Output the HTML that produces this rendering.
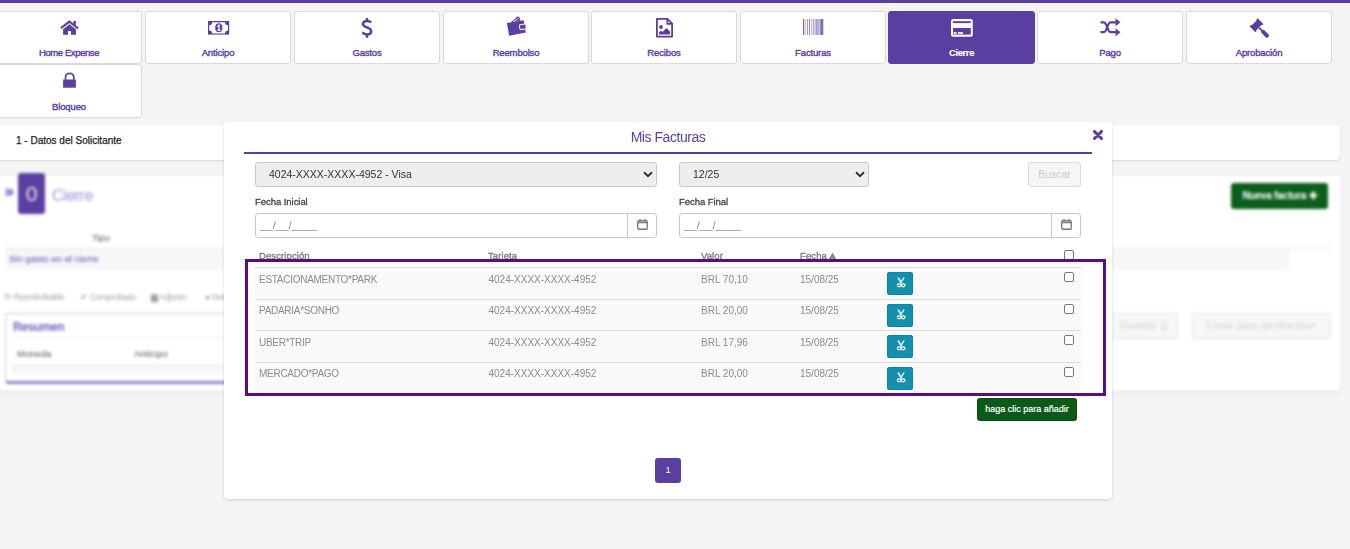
<!DOCTYPE html>
<html><head><meta charset="utf-8">
<style>
*{box-sizing:border-box;margin:0;padding:0}
html,body{width:1350px;height:549px;overflow:hidden}
body{background:#f4f4f4;font-family:"Liberation Sans",sans-serif;position:relative}
.topbar{position:absolute;left:0;top:0;width:1350px;height:3px;background:#5b3fa0}
.card{position:absolute;width:146px;height:53px;background:#fff;border:1px solid #d9d9d9;border-radius:3px;color:#5b3fa0;text-align:center}
.card.active{background:#5b3fa0;border-color:#5b3fa0;color:#fff}
.card .ic{position:absolute;left:0;right:0;top:9px;height:15px;display:flex;justify-content:center}
.card .lb{position:absolute;left:0;right:0;top:35px;font-size:9.5px;font-weight:normal;line-height:12px;letter-spacing:-0.15px;-webkit-text-stroke:0.4px currentColor}
.panel1{position:absolute;left:-5px;top:125px;width:1345px;height:35px;background:#fff;box-shadow:0 1px 2px rgba(0,0,0,.12);border-radius:4px}
.panel1 .t{position:absolute;left:21px;top:10px;font-size:10px;color:#222;font-weight:normal;-webkit-text-stroke:0.25px #222;letter-spacing:0px}
.panel2{position:absolute;left:-5px;top:175px;width:1345px;height:215px;background:#fff;box-shadow:0 1px 2px rgba(0,0,0,.12);filter:blur(1px)}
.blurwrap{position:absolute;left:0;top:0;width:1350px;height:549px;filter:blur(1.6px)}
.p2bg{position:absolute;left:-5px;top:175.5px;width:1344.5px;height:215px;background:#fff;box-shadow:0 1px 2px rgba(0,0,0,.15)}
.modal{position:absolute;left:224px;top:122px;width:888px;height:377px;background:#fff;border-radius:4px;box-shadow:0 1px 3px rgba(0,0,0,.16)}

.abs{position:absolute}
.mtitle{position:absolute;left:224px;width:888px;text-align:center;top:128px;font-size:14px;letter-spacing:-0.45px;color:#5b3fa0;line-height:18px}
.mclose{position:absolute;left:1093px;top:130px;width:10px;height:10px}
.mline{position:absolute;left:244px;top:152px;width:848px;height:2px;background:#5b3fa0}
.sel{position:absolute;height:25px;background:#eee;border:1px solid #c8c8c8;border-radius:3px;font-size:10.5px;color:#333;line-height:23px}
.sel .v{position:absolute;left:13px;top:0}
.sel svg{position:absolute;top:8px}
.btn-bus{position:absolute;left:1028px;top:162px;width:53px;height:25px;background:#f6f6f6;border:1px solid #dcdcdc;border-radius:3px;color:#c9c9c9;font-size:10.5px;text-align:center;line-height:23px}
.lbl{position:absolute;top:195px;font-size:9.5px;font-weight:normal;color:#3d4451;letter-spacing:-0.05px;line-height:13px;-webkit-text-stroke:0.3px #3d4451}
.dinp{position:absolute;top:213px;height:25px;background:#fff;border:1px solid #c8c8c8;border-radius:3px}
.dinp .ph{position:absolute;left:4px;top:4px;font-size:11.4px;color:#8a8a8a;line-height:14px;letter-spacing:0px}
.dinp .add{position:absolute;right:0;top:-1px;width:29px;height:25px;border-left:1px solid #c8c8c8}
.dinp .add svg{position:absolute;left:9px;top:6px}
.th{position:absolute;top:249px;font-size:9.5px;font-weight:normal;color:#7d7d7d;line-height:13px;letter-spacing:0.1px;-webkit-text-stroke:0.35px #7d7d7d}
.tbl{position:absolute;left:255px;top:267px;width:826px;height:126px;background:#f9f9f9}
.rl{position:absolute;left:255px;width:826px;height:1px;background:#dcdcdc}
.td{position:absolute;font-size:10px;color:#8c8c8c;line-height:13px}
.tb{position:absolute;left:887px;width:26px;height:23px;background:#1390ad;border-radius:3px;box-shadow:inset 0 0 0 1px #0f84a0}
.tb svg{position:absolute;left:0;top:0}
.cb{position:absolute;left:1064px;width:10px;height:10px;border:1px solid #767676;border-radius:2px;background:#fff}
.pbox{position:absolute;left:245px;top:259px;width:861px;height:137px;border:3px solid #5f0a85}
.gbtn{position:absolute;left:977px;top:398px;width:100px;height:23px;background:#0b5a1a;border:1px solid #094c15;border-radius:2.5px;color:#fff;font-size:9px;text-align:center;line-height:21px;-webkit-text-stroke:0.2px #fff}
.pg{position:absolute;left:655px;top:458px;width:26px;height:25px;background:#5b3fa0;border-radius:3px;color:#fff;font-size:9px;text-align:center;line-height:25px}
</style></head><body>
<div class="topbar"></div>

<div class="card" style="left:-4px;top:11px"><div class="ic"></div><div class="lb" style="letter-spacing:-0.4px">Home Expense</div></div>
<div class="card" style="left:145px;top:11px"><div class="ic"></div><div class="lb">Anticipo</div></div>
<div class="card" style="left:294px;top:11px"><div class="ic"></div><div class="lb">Gastos</div></div>
<div class="card" style="left:443px;top:11px"><div class="ic"></div><div class="lb">Reembolso</div></div>
<div class="card" style="left:591px;top:11px"><div class="ic"></div><div class="lb">Recibos</div></div>
<div class="card" style="left:740px;top:11px"><div class="ic"></div><div class="lb">Facturas</div></div>
<div class="card active" style="left:888px;top:11px;width:147px"><div class="ic"></div><div class="lb" style="font-weight:bold;letter-spacing:-0.4px;-webkit-text-stroke:0.1px #fff">Cierre</div></div>
<div class="card" style="left:1037px;top:11px"><div class="ic"></div><div class="lb">Pago</div></div>
<div class="card" style="left:1186px;top:11px"><div class="ic"></div><div class="lb">Aprobación</div></div>
<div class="card" style="left:-4px;top:64px;height:54px"><div class="ic"></div><div class="lb" style="top:35.5px">Bloqueo</div></div>

<svg class="abs" style="left:60px;top:20px" width="20" height="16" viewBox="0 0 20 16"><path d="M0.9 8.2 L9.4 1.6 L18.1 8.5" fill="none" stroke="#5b3fa0" stroke-width="2.1"/><rect x="13.4" y="1" width="2.5" height="4.5" fill="#5b3fa0"/><path d="M3.1 9.2 L9.4 4.3 L15.9 9.2 V14.8 H11 V11.1 H8 V14.8 H3.1 Z" fill="#5b3fa0"/></svg>
<svg class="abs" style="left:207.8px;top:21px" width="22" height="14" viewBox="0 0 22 14"><rect x="0" y="0" width="21.2" height="13.6" fill="#5b3fa0"/><path d="M4.2 1.2 H17 A3 3 0 0 0 20 4.2 V9.4 A3 3 0 0 0 17 12.4 H4.2 A3 3 0 0 0 1.2 9.4 V4.2 A3 3 0 0 0 4.2 1.2 Z" fill="#fff"/><ellipse cx="10.8" cy="6.8" rx="3.6" ry="4.5" fill="#5b3fa0"/><path d="M9.5 5.5 L11 4.3 V9.2 M9.4 9.3 H12.5" fill="none" stroke="#fff" stroke-width="1.3"/></svg>
<svg class="abs" style="left:361px;top:17px" width="12" height="22" viewBox="0 0 12 22"><path d="M10.1 5.6 C9.4 4.5 8.2 3.9 6 3.9 C3.5 3.9 1.9 5.1 1.9 6.9 C1.9 8.8 3.8 9.6 6 10.4 C8.5 11.3 10.2 12.1 10.2 14.2 C10.2 16.2 8.4 17.4 6 17.4 C3.8 17.4 2.3 16.6 1.5 15.4" fill="none" stroke="#5b3fa0" stroke-width="2.5"/><path d="M6 1 V4 M6 17.3 V20.7" stroke="#5b3fa0" stroke-width="2.4"/></svg>
<svg class="abs" style="left:506px;top:15px" width="21" height="22" viewBox="0 0 21 22"><path d="M4.6 7.4 L11.8 1.2 L13.4 2.2 L14.6 5.6 Z" fill="#5b3fa0"/><path d="M7 6.4 L12.6 3.6" stroke="#fff" stroke-width="0.8"/><path d="M0.9 8 L17.7 5.2 L19.8 17.4 L3.2 20.7 Z" fill="#5b3fa0"/><rect x="13.6" y="9.3" width="6.4" height="5" rx="1" transform="rotate(-9 16.8 11.8)" fill="#5b3fa0" stroke="#fff" stroke-width="1"/></svg>
<svg class="abs" style="left:655px;top:17px" width="19" height="21" viewBox="0 0 19 21"><path d="M1.9 1.9 H12.4 L17.1 6.6 V19.6 H1.9 Z" fill="none" stroke="#5b3fa0" stroke-width="1.8" stroke-linejoin="round"/><path d="M12.3 1.5 V6.9 H17.5" fill="none" stroke="#5b3fa0" stroke-width="1.6"/><circle cx="6" cy="10" r="1.9" fill="#5b3fa0"/><path d="M4 17.6 V15.4 L5.8 13.6 L7.3 15 L11.5 11 L15 14.4 V17.6 Z" fill="#5b3fa0"/></svg>
<svg class="abs" style="left:802px;top:18px" width="22" height="18" viewBox="0 0 22 18"><rect x="1" y="1" width="1" height="16" fill="#5b3fa0" fill-opacity="0.8"/><rect x="2.4" y="1" width="1.6" height="16" fill="#5b3fa0" fill-opacity="0.3"/><rect x="5" y="1" width="0.9" height="16" fill="#5b3fa0" fill-opacity="0.6"/><rect x="7" y="1" width="1" height="16" fill="#5b3fa0" fill-opacity="0.65"/><rect x="9.4" y="1" width="0.8" height="16" fill="#5b3fa0" fill-opacity="0.55"/><rect x="11.2" y="1" width="0.8" height="16" fill="#5b3fa0" fill-opacity="0.55"/><rect x="12.6" y="1" width="0.9" height="16" fill="#5b3fa0" fill-opacity="0.6"/><rect x="14.1" y="1" width="0.9" height="16" fill="#5b3fa0" fill-opacity="0.6"/><rect x="15.4" y="1" width="1.3" height="16" fill="#5b3fa0" fill-opacity="0.65"/><rect x="17.3" y="1" width="0.7" height="16" fill="#5b3fa0" fill-opacity="0.45"/><rect x="18.3" y="1" width="1.7" height="16" fill="#5b3fa0" fill-opacity="0.8"/><rect x="20" y="1" width="1.3" height="16" fill="#5b3fa0" fill-opacity="0.75"/></svg>
<svg class="abs" style="left:950px;top:18px" width="24" height="20" viewBox="0 0 24 20"><rect x="1" y="0.9" width="21.8" height="17.8" rx="2" fill="#fff"/><rect x="3" y="3.2" width="17.8" height="1.9" fill="#5b3fa0"/><rect x="3" y="10" width="17.8" height="6.6" fill="#5b3fa0"/><rect x="3.6" y="14.2" width="3" height="1.7" fill="#fff"/><rect x="8" y="14.2" width="5" height="1.7" fill="#fff"/></svg>
<svg class="abs" style="left:1099px;top:17px" width="23" height="20" viewBox="0 0 23 20"><path d="M1.5 5.3 H4.8 C8.2 5.3 8.2 15.2 11.6 15.2 H17.2" fill="none" stroke="#5b3fa0" stroke-width="2.3"/><path d="M1.5 15.2 H4.8 C8.2 15.2 8.2 5.3 11.6 5.3 H17.2" fill="none" stroke="#5b3fa0" stroke-width="2.3"/><path d="M16.6 1.2 L21.5 5.2 L16.6 9.2 Z M16.6 11.2 L21.5 15.2 L16.6 19.2 Z" fill="#5b3fa0"/></svg>
<svg class="abs" style="left:1248px;top:17px" width="22" height="22" viewBox="0 0 22 22"><g transform="translate(8.5 8.2) rotate(-45)"><path d="M-5.7 -4.1 H-4.3 Q-3.5 -3.2 -2.7 -3.3 H2.7 Q3.5 -3.2 4.3 -4.1 H5.7 V4.1 H4.3 Q3.5 3.2 2.7 3.3 H-2.7 Q-3.5 3.2 -4.3 4.1 H-5.7 Z" fill="#5b3fa0"/><rect x="-0.9" y="3.5" width="1.8" height="5" fill="#5b3fa0"/><rect x="-2" y="7.6" width="4" height="9" rx="1.6" fill="#5b3fa0"/></g></svg>
<svg class="abs" style="left:62px;top:71px" width="15" height="18" viewBox="0 0 15 18"><path d="M3.55 8.8 V6.35 A4.1 4.1 0 0 1 11.75 6.35 V8.8" fill="none" stroke="#5b3fa0" stroke-width="1.75"/><rect x="1.1" y="8.5" width="12.8" height="8.2" fill="#5b3fa0"/></svg>
<div class="panel1"><div class="t">1 - Datos del Solicitante</div></div>
<div class="blurwrap">
<div class="p2bg"></div>
<svg class="abs" style="left:5px;top:188px" width="9" height="9" viewBox="0 0 9 9"><path d="M0.8 0.8 L3.8 4.2 L0.8 7.6 M4.6 0.8 L7.6 4.2 L4.6 7.6" fill="none" stroke="#6f5cc0" stroke-width="2"/></svg>
<div class="abs" style="left:18px;top:173px;width:27px;height:41px;background:#5b3fa0;border-radius:3px;color:#e4ddf4;font-size:21px;text-align:center;line-height:41px">0</div>
<div class="abs" style="left:52px;top:186.5px;font-size:16px;color:#ae9fe0;letter-spacing:-0.45px;line-height:18px;-webkit-text-stroke:0.15px #ae9fe0">Cierre</div>
<div class="abs" style="left:92px;top:231.5px;font-size:9.5px;color:#555;line-height:12px">Tipo</div>
<div class="abs" style="left:5px;top:247.5px;width:1326px;height:1px;background:#e6e6e6"></div>
<div class="abs" style="left:5px;top:248.5px;width:1284px;height:21.5px;background:#f7f7f7"></div>
<div class="abs" style="left:9px;top:253px;font-size:9.5px;color:#7f6fcc;line-height:12px;-webkit-text-stroke:0.2px #7f6fcc">Sin gasto en el cierre</div>
<div class="abs" style="left:4px;top:292px;font-size:8.5px;color:#a2a2a2;line-height:11px;white-space:nowrap;letter-spacing:-0.3px">⟳ Reembolsable</div>
<div class="abs" style="left:80px;top:292px;font-size:8.5px;color:#a2a2a2;line-height:11px;white-space:nowrap;letter-spacing:-0.3px">✔ Comprobado</div>
<div class="abs" style="left:151px;top:292px;font-size:8.5px;color:#a2a2a2;line-height:11px;white-space:nowrap;letter-spacing:-0.3px">▆ Adjunto</div>
<div class="abs" style="left:205px;top:292px;font-size:8.5px;color:#a2a2a2;line-height:11px;white-space:nowrap;letter-spacing:-0.3px">● Detalle</div>
<div class="abs" style="left:5px;top:312.5px;width:400px;height:71px;border:1.5px solid #cdc2ee;border-bottom:3px solid #9282cc;border-radius:4px"></div>
<div class="abs" style="left:13px;top:320px;font-size:12px;font-weight:bold;color:#7560c4;line-height:14px;letter-spacing:-0.4px">Resumen</div>
<div class="abs" style="left:12px;top:338px;width:390px;height:1px;background:#eeeeee"></div>
<div class="abs" style="left:17px;top:348px;font-size:9.5px;color:#555;line-height:12px">Moneda</div>
<div class="abs" style="left:134px;top:348px;font-size:9.5px;color:#555;line-height:12px">Anticipo</div>
<div class="abs" style="left:12px;top:364px;width:390px;height:10px;background:#f6f6f6;border-top:1px solid #eee"></div>
<div class="abs" style="left:1231px;top:183px;width:97px;height:25.5px;background:#0c5e1c;border-radius:3px;color:#fff;font-size:10px;font-weight:bold;text-align:center;line-height:25px;letter-spacing:-0.2px">Nueva factura ✚</div>
<div class="abs" style="left:1100px;top:313px;width:78px;height:26px;background:#f7f7f7;border:1px solid #e6e6e6;border-radius:3px;color:#d6d6d6;font-size:10px;text-align:right;padding-right:8px;line-height:24px">Guardar 🖫</div>
<div class="abs" style="left:1192px;top:313px;width:139px;height:26px;background:#f7f7f7;border:1px solid #e6e6e6;border-radius:3px;color:#d6d6d6;font-size:10px;text-align:center;line-height:24px">Enviar para aprobación✐</div>
</div>

<div class="modal"></div>
<div class="mtitle">Mis Facturas</div>
<svg class="mclose" viewBox="0 0 10 10"><path d="M1.5 1.5 L8.5 8.5 M8.5 1.5 L1.5 8.5" stroke="#5b3fa0" stroke-width="3.1" stroke-linecap="round"/></svg>
<div class="mline"></div>
<div class="sel" style="left:255px;top:162px;width:402px"><span class="v">4024-XXXX-XXXX-4952 - Visa</span><svg width="10" height="7" viewBox="0 0 10 7" style="left:387px"><path d="M1 1.2 L5 5.2 L9 1.2" fill="none" stroke="#333" stroke-width="2"/></svg></div>
<div class="sel" style="left:679px;top:162px;width:190px"><span class="v">12/25</span><svg width="10" height="7" viewBox="0 0 10 7" style="left:175px"><path d="M1 1.2 L5 5.2 L9 1.2" fill="none" stroke="#333" stroke-width="2"/></svg></div>
<div class="btn-bus">Buscar</div>
<div class="lbl" style="left:255px">Fecha Inicial</div>
<div class="lbl" style="left:679px">Fecha Final</div>
<div class="dinp" style="left:255px;width:402px"><span class="ph">__/__/____</span><div class="add"><svg width="11" height="11" viewBox="0 0 11 11"><rect x="0.75" y="1.75" width="9.5" height="8.5" rx="1" fill="none" stroke="#777" stroke-width="1.3"/><line x1="0.75" y1="3.6" x2="10.25" y2="3.6" stroke="#777" stroke-width="1.3"/><line x1="3" y1="0" x2="3" y2="2.5" stroke="#777" stroke-width="1.3"/><line x1="8" y1="0" x2="8" y2="2.5" stroke="#777" stroke-width="1.3"/></svg></div></div>
<div class="dinp" style="left:679px;width:402px"><span class="ph">__/__/____</span><div class="add"><svg width="11" height="11" viewBox="0 0 11 11"><rect x="0.75" y="1.75" width="9.5" height="8.5" rx="1" fill="none" stroke="#777" stroke-width="1.3"/><line x1="0.75" y1="3.6" x2="10.25" y2="3.6" stroke="#777" stroke-width="1.3"/><line x1="3" y1="0" x2="3" y2="2.5" stroke="#777" stroke-width="1.3"/><line x1="8" y1="0" x2="8" y2="2.5" stroke="#777" stroke-width="1.3"/></svg></div></div>
<div class="th" style="left:259px">Descripción</div><div class="th" style="left:488px">Tarjeta</div><div class="th" style="left:701px">Valor</div><div class="th" style="left:800px">Fecha</div><svg class="abs" style="left:828px;top:251.5px" width="9" height="8" viewBox="0 0 9 8"><path d="M4.5 0.5 L8.6 7.5 H0.4 Z" fill="#8a8a8a"/></svg>
<div class="cb" style="top:250px"></div>
<div class="tbl"></div>
<div class="rl" style="top:267.0px"></div>
<div class="td" style="left:259px;top:272.5px;letter-spacing:-0.28px">ESTACIONAMENTO*PARK</div>
<div class="td" style="left:488.5px;top:272.5px">4024-XXXX-XXXX-4952</div>
<div class="td" style="left:701px;top:272.5px">BRL 70,10</div>
<div class="td" style="left:800px;top:272.5px">15/08/25</div>
<div class="tb" style="top:272.0px"><svg width="26" height="23" viewBox="0 0 26 23"><path d="M10.9 5.6 L14.9 11.4 M17.4 5.6 L13.4 11.4" stroke="#d8eef4" stroke-width="1.7"/><path d="M18.2 6 L14.6 11.8" stroke="#0a4a5a" stroke-opacity="0.5" stroke-width="0.8"/><ellipse cx="12.2" cy="13.3" rx="1.9" ry="1.5" fill="none" stroke="#fff" stroke-width="1.2"/><ellipse cx="16.2" cy="13.3" rx="1.9" ry="1.5" fill="none" stroke="#fff" stroke-width="1.2"/></svg></div>
<div class="cb" style="top:272.0px"></div>
<div class="rl" style="top:298.5px"></div>
<div class="td" style="left:259px;top:304.0px;letter-spacing:-0.28px">PADARIA*SONHO</div>
<div class="td" style="left:488.5px;top:304.0px">4024-XXXX-XXXX-4952</div>
<div class="td" style="left:701px;top:304.0px">BRL 20,00</div>
<div class="td" style="left:800px;top:304.0px">15/08/25</div>
<div class="tb" style="top:303.5px"><svg width="26" height="23" viewBox="0 0 26 23"><path d="M10.9 5.6 L14.9 11.4 M17.4 5.6 L13.4 11.4" stroke="#d8eef4" stroke-width="1.7"/><path d="M18.2 6 L14.6 11.8" stroke="#0a4a5a" stroke-opacity="0.5" stroke-width="0.8"/><ellipse cx="12.2" cy="13.3" rx="1.9" ry="1.5" fill="none" stroke="#fff" stroke-width="1.2"/><ellipse cx="16.2" cy="13.3" rx="1.9" ry="1.5" fill="none" stroke="#fff" stroke-width="1.2"/></svg></div>
<div class="cb" style="top:303.5px"></div>
<div class="rl" style="top:330.0px"></div>
<div class="td" style="left:259px;top:335.5px;letter-spacing:-0.28px">UBER*TRIP</div>
<div class="td" style="left:488.5px;top:335.5px">4024-XXXX-XXXX-4952</div>
<div class="td" style="left:701px;top:335.5px">BRL 17,96</div>
<div class="td" style="left:800px;top:335.5px">15/08/25</div>
<div class="tb" style="top:335.0px"><svg width="26" height="23" viewBox="0 0 26 23"><path d="M10.9 5.6 L14.9 11.4 M17.4 5.6 L13.4 11.4" stroke="#d8eef4" stroke-width="1.7"/><path d="M18.2 6 L14.6 11.8" stroke="#0a4a5a" stroke-opacity="0.5" stroke-width="0.8"/><ellipse cx="12.2" cy="13.3" rx="1.9" ry="1.5" fill="none" stroke="#fff" stroke-width="1.2"/><ellipse cx="16.2" cy="13.3" rx="1.9" ry="1.5" fill="none" stroke="#fff" stroke-width="1.2"/></svg></div>
<div class="cb" style="top:335.0px"></div>
<div class="rl" style="top:361.5px"></div>
<div class="td" style="left:259px;top:367.0px;letter-spacing:-0.28px">MERCADO*PAGO</div>
<div class="td" style="left:488.5px;top:367.0px">4024-XXXX-XXXX-4952</div>
<div class="td" style="left:701px;top:367.0px">BRL 20,00</div>
<div class="td" style="left:800px;top:367.0px">15/08/25</div>
<div class="tb" style="top:366.5px"><svg width="26" height="23" viewBox="0 0 26 23"><path d="M10.9 5.6 L14.9 11.4 M17.4 5.6 L13.4 11.4" stroke="#d8eef4" stroke-width="1.7"/><path d="M18.2 6 L14.6 11.8" stroke="#0a4a5a" stroke-opacity="0.5" stroke-width="0.8"/><ellipse cx="12.2" cy="13.3" rx="1.9" ry="1.5" fill="none" stroke="#fff" stroke-width="1.2"/><ellipse cx="16.2" cy="13.3" rx="1.9" ry="1.5" fill="none" stroke="#fff" stroke-width="1.2"/></svg></div>
<div class="cb" style="top:366.5px"></div>
<div class="pbox"></div>
<div class="gbtn">haga clic para añadir</div>
<div class="pg">1</div>
</body></html>
